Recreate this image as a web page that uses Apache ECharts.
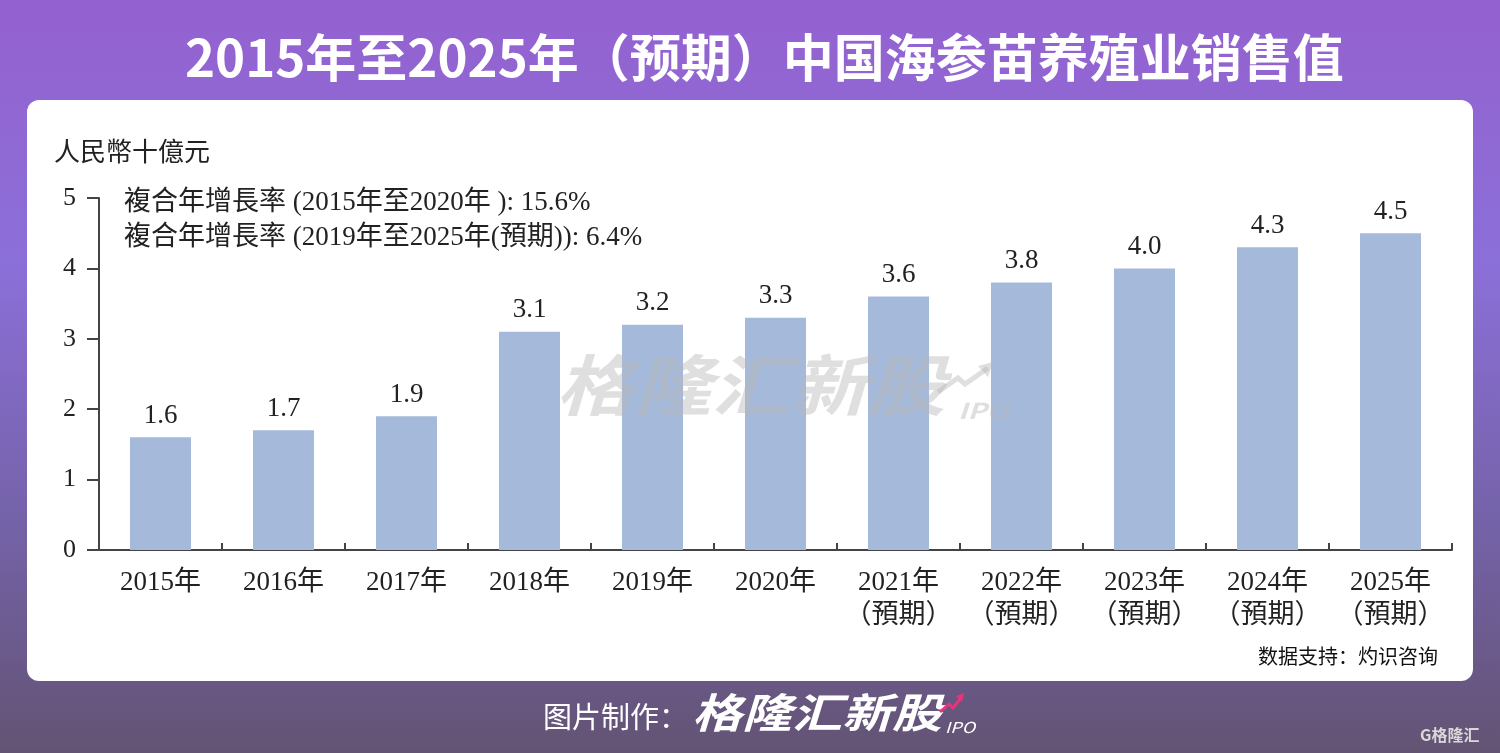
<!DOCTYPE html>
<html>
<head>
<meta charset="utf-8">
<script src="https://cdn.jsdelivr.net/npm/echarts@6/dist/echarts.min.js"></script>
<style>
html,body{margin:0;padding:0;width:1500px;height:753px;overflow:hidden;}
#c{width:1500px;height:753px;}
</style>
</head>
<body>
<div id="c"></div>
<script>
const titleText = '2015年至2025年（预期）中国海参苗养殖业销售值';
const unitText = '人民幣十億元';
const cagrLines = ['複合年增長率 (2015年至2020年 ): 15.6%', '複合年增長率 (2019年至2025年(預期)): 6.4%'];
const categories = ['2015年','2016年','2017年','2018年','2019年','2020年',
  '2021年\n（預期）','2022年\n（預期）','2023年\n（預期）','2024年\n（預期）','2025年\n（預期）'];
const values = [1.6, 1.7, 1.9, 3.1, 3.2, 3.3, 3.6, 3.8, 4.0, 4.3, 4.5];
const yTicks = [0, 1, 2, 3, 4, 5];
const sourceText = '数据支持：灼识咨询';
const footerText = '图片制作：';
const logoText = '格隆汇新股';

const serif = "'Liberation Serif', 'Noto Sans CJK TC', serif";
const sans = "'Noto Sans CJK SC', sans-serif";
const wm = 'rgba(185,185,185,0.45)';

const chart = echarts.init(document.getElementById('c'));
chart.setOption({
  backgroundColor: {
    type: 'linear', x: 0, y: 0, x2: 0, y2: 1,
    colorStops: [
      {offset: 0, color: '#9461d0'},
      {offset: 0.35, color: '#8b6fd8'},
      {offset: 0.7, color: '#7462a8'},
      {offset: 1, color: '#635373'}
    ]
  },
  animation: false,
  graphic: [
    {type: 'rect', shape: {x: 27, y: 100, width: 1446, height: 581, r: 12}, style: {fill: '#ffffff'}, z: 0},
    {type: 'text', x: 185, y: 32, style: {text: titleText, fill: '#ffffff', font: "bold 51px 'Noto Sans CJK SC'"}, z: 5},
    {type: 'text', x: 54, y: 141, style: {text: unitText, fill: '#222', font: "26px " + serif}, z: 5},
    {type: 'text', x: 124, y: 189, style: {text: cagrLines[0], fill: '#222', font: "27px " + serif}, z: 5},
    {type: 'text', x: 124, y: 224, style: {text: cagrLines[1], fill: '#222', font: "27px " + serif}, z: 5},
    {type: 'text', x: 1258, y: 646, style: {text: sourceText, fill: '#111', font: "20px " + sans}, z: 5},
    {type: 'text', x: 556, y: 352, scaleX: 1.18, style: {text: logoText, fill: wm, font: "italic bold 66px " + sans}, z: 20},
    {type: 'text', x: 958, y: 400, scaleX: 1.3, style: {text: 'IPO', fill: wm, font: "italic bold 22px " + sans}, z: 20},
    {type: 'polyline', shape: {points: [[938, 392], [958, 378], [965, 384], [988, 368]]}, style: {stroke: wm, lineWidth: 5, fill: null}, z: 20},
    {type: 'polygon', shape: {points: [[978, 366], [993, 362], [988, 377]]}, style: {fill: wm}, z: 20},
    {type: 'text', x: 543, y: 702, style: {text: footerText, fill: '#ffffff', font: "29px " + sans}, z: 5},
    {type: 'text', x: 692, y: 692, scaleX: 1.22, style: {text: logoText, fill: '#ffffff', font: "italic bold 41px " + sans, shadowColor: 'rgba(0,0,0,0.55)', shadowOffsetX: 2, shadowOffsetY: 3, shadowBlur: 2}, z: 5},
    {type: 'text', x: 945, y: 720, scaleX: 1.2, style: {text: 'IPO', fill: '#ffffff', font: "italic 15px " + sans}, z: 5},
    {type: 'polyline', shape: {points: [[940, 712], [949, 704], [953, 708], [961, 698]]}, style: {stroke: '#e8337a', lineWidth: 3, fill: null}, z: 5},
    {type: 'polygon', shape: {points: [[956, 696], [964, 693], [962, 702]]}, style: {fill: '#e8337a'}, z: 5},
    {type: 'text', x: 1420, y: 727, style: {text: 'G格隆汇', fill: '#d8d8d8', font: "bold 16px " + sans}, z: 5}
  ],
  grid: {left: 99, right: 48, top: 198, bottom: 203, containLabel: false},
  xAxis: {
    type: 'category',
    data: categories,
    boundaryGap: true,
    axisLine: {show: true, lineStyle: {color: '#444', width: 2}},
    axisTick: {show: true, inside: true, length: 7, lineStyle: {color: '#444', width: 2}},
    axisLabel: {color: '#222', fontFamily: serif, fontSize: 27, margin: 16, lineHeight: 33, interval: 0}
  },
  yAxis: {
    type: 'value',
    min: 0, max: 5, interval: 1,
    splitLine: {show: false},
    axisLine: {show: true, lineStyle: {color: '#444', width: 2}},
    axisTick: {show: true, length: 12, lineStyle: {color: '#444', width: 2}},
    axisLabel: {color: '#222', fontFamily: serif, fontSize: 26, margin: 23,
      formatter: v => yTicks.includes(v) ? String(v) : ''}
  },
  series: [{
    type: 'bar',
    data: values,
    barWidth: 61,
    itemStyle: {color: '#a5badb'},
    label: {show: true, position: 'top', distance: 8, color: '#222', fontFamily: serif, fontSize: 27,
      formatter: p => p.value.toFixed(1)},
    z: 2
  }]
});
</script>
</body>
</html>
